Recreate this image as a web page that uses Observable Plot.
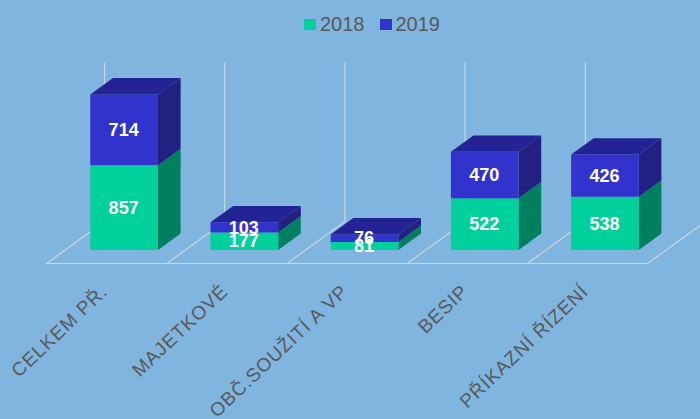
<!DOCTYPE html>
<html><head><meta charset="utf-8">
<script src="https://cdn.jsdelivr.net/npm/d3@7"></script>
<script src="https://cdn.jsdelivr.net/npm/@observablehq/plot@0.6"></script>
<style>
html,body{margin:0;padding:0;background:#7fb5de;overflow:hidden;width:700px;height:419px}
#legend{height:40px;box-sizing:border-box;padding-top:8px;padding-left:304px;display:flex;align-items:center;font:20px "Liberation Sans",Arial,sans-serif;color:#595959;line-height:20px}
#legend i{display:inline-block;width:12px;height:11px;margin-right:4px}
#legend span{margin-right:15px}
svg{display:block}
svg g[font-size="19"]{letter-spacing:.9px}
</style></head><body>
<div id="legend"></div>
<div id="chart"></div>
<script>
const categories = ["CELKEM PŘ.", "MAJETKOVÉ", "OBČ.SOUŽITÍ A VP", "BESIP", "PŘÍKAZNÍ ŘÍZENÍ"];
const years = ["2018", "2019"];
const values2018 = [857, 177, 81, 522, 538];
const values2019 = [714, 103, 76, 470, 426];
const axisMax = 1600;

const colors = {
  "2018": {front: "#00d09b", side: "#00805f", top: "#00805f"},
  "2019": {front: "#3232cc", side: "#222080", top: "#232396"}
};

// Oblique projection of the 3D box: category position, value, depth (0 front .. 1 back)
const depthX = 0.4825, depthY = 424;
const px = (x, d) => x + d * depthX;
const py = (v, d) => v + d * depthY;
const barL = 0.219, barR = 0.782, d0 = 0.31, d1 = 0.70;

const stacks = categories.flatMap((c, i) => {
  const a = values2018[i], b = values2019[i];
  return [
    {cat: c, i, year: "2018", base: 0, top: a, value: a, last: false},
    {cat: c, i, year: "2019", base: a, top: a + b, value: b, last: true}
  ];
});

const front = stacks.map(s => ({...s, x1: px(s.i + barL, d0), x2: px(s.i + barR, d0), y1: py(s.base, d0), y2: py(s.top, d0)}));
const sides = stacks.flatMap(s => [d0, d1].map(d => ({...s, key: s.i + s.year, x: px(s.i + barR, d), y1: py(s.base, d), y2: py(s.top, d)})));
const tops = stacks.filter(s => s.last).flatMap(s => {
  const L = s.i + barL, R = s.i + barR, k = s.i;
  return [
    {key: k, x: px(L, d0), y1: py(s.top, d0), y2: py(s.top, d0), year: s.year},
    {key: k, x: px(L, d1), y1: py(s.top, d0), y2: py(s.top, d1), year: s.year},
    {key: k, x: px(R, d0), y1: py(s.top, d0), y2: py(s.top, d1), year: s.year},
    {key: k, x: px(R, d1), y1: py(s.top, d1), y2: py(s.top, d1), year: s.year}
  ];
});

const ticks = d3.range(categories.length + 1);
const verticals = ticks.map(t => ({x: px(t, 1), y1: py(0, 1), y2: py(axisMax, 1)}));
const diagonals = ticks.flatMap(t => [0, 1].map(d => ({t, x: px(t, d), y: py(0, d)})));
const floorFront = [{x: px(0, 0), y: py(0, 0)}, {x: px(categories.length, 0), y: py(0, 0)}];

const gridColor = "#d0d5da";
const k = 0.099, legendH = 40, floorPx = 263 - legendH;

const faceMarks = yr => [
  Plot.areaY(sides.filter(s => s.year === yr), {x: "x", y1: "y1", y2: "y2", z: "key", fill: colors[yr].side}),
  Plot.rect(front.filter(s => s.year === yr), {x1: "x1", x2: "x2", y1: "y1", y2: "y2", fill: colors[yr].front, inset: 0})
];

const plot = Plot.plot({
  width: 700, height: 379,
  marginLeft: 0, marginRight: 0, marginTop: 0, marginBottom: 0,
  x: {domain: [0, 5], range: [46, 647], axis: null},
  y: {domain: [0, 2000], range: [floorPx, floorPx - 2000 * k], axis: null},
  style: {background: "transparent", overflow: "hidden"},
  marks: [
    Plot.ruleX(verticals, {x: "x", y1: "y1", y2: "y2", stroke: gridColor, strokeWidth: 1.2}),
    Plot.line(diagonals, {x: "x", y: "y", z: "t", stroke: gridColor, strokeWidth: 1.2}),
    Plot.line(floorFront, {x: "x", y: "y", stroke: gridColor, strokeWidth: 1.2}),
    ...years.flatMap(faceMarks),
    Plot.areaY(tops, {x: "x", y1: "y1", y2: "y2", z: "key", fill: colors["2019"].top}),
    Plot.text(front, {
      x: d => (d.x1 + d.x2) / 2,
      y: d => (d.y1 + d.y2) / 2,
      text: d => String(d.value),
      dx: -1,
      fill: "white", fontWeight: "bold", fontSize: 18,
      fontFamily: "Liberation Sans, Arial, sans-serif"
    }),
    Plot.text(categories, {
      x: (d, i) => i + 0.5,
      y: () => 0,
      text: d => d,
      rotate: -43.5, textAnchor: "end", dx: -2, dy: 25,
      fill: "#595959", fontSize: 19,
      fontFamily: "Liberation Sans, Arial, sans-serif"
    })
  ]
});
document.getElementById("chart").append(plot);

const legend = document.getElementById("legend");
years.forEach(y => {
  const sw = document.createElement("i");
  sw.style.background = colors[y].front;
  const t = document.createElement("span");
  t.textContent = y;
  legend.append(sw, t);
});
</script>
</body></html>
